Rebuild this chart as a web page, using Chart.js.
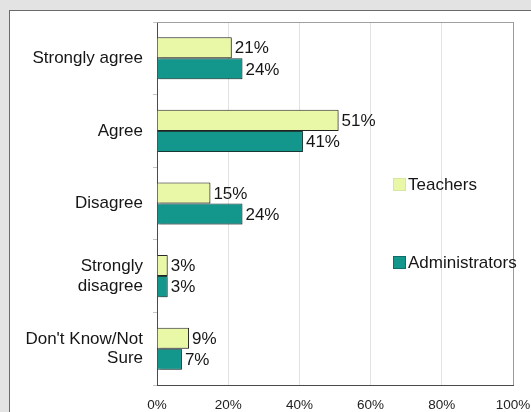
<!DOCTYPE html>
<html>
<head>
<meta charset="utf-8">
<script src="https://cdn.jsdelivr.net/npm/chart.js@4/dist/chart.umd.min.js"></script>
<style>
  html, body { margin: 0; padding: 0; background: #e3e3e3; width: 531px; height: 412px; overflow: hidden; }
  #panel { position: absolute; left: 9px; top: 10px; width: 540px; height: 420px; background: #fff; border: 1px solid #6a6a6a; }
  #myChart { position: absolute; left: 0; top: 0; }
</style>
</head>
<body>
<div id="panel"></div>
<canvas id="myChart" width="531" height="412"></canvas>
<script>
// survey answers, percent of respondents
var answers = ['Strongly agree', 'Agree', 'Disagree', ['Strongly', 'disagree'], ["Don't Know/Not", 'Sure']];
var teachers = [21, 51, 15, 3, 9];
var administrators = [24, 41, 24, 3, 7];
var xTicks = [0, 20, 40, 60, 80, 100];

var FONT = "'Liberation Sans', Arial, sans-serif";

function noOverhang(scale) {
    scale.paddingLeft = 0;
    scale.paddingRight = 0;
    scale.paddingTop = 0;
    scale.paddingBottom = 0;
}

// value text at the end of every bar
var valueLabels = {
    id: 'valueLabels',
    afterDatasetsDraw: function (chart) {
        var ctx = chart.ctx;
        ctx.save();
        ctx.font = '17px ' + FONT;
        ctx.fillStyle = '#161616';
        ctx.textAlign = 'left';
        ctx.textBaseline = 'middle';
        chart.data.datasets.forEach(function (ds, i) {
            chart.getDatasetMeta(i).data.forEach(function (bar, j) {
                ctx.fillText(ds.data[j] + '%', bar.x + 3, bar.y + 1);
            });
        });
        ctx.restore();
    }
};

// drop shadow behind the bars, plus the top frame line
var barShadow = {
    id: 'barShadow',
    beforeDatasetsDraw: function (chart) {
        var ctx = chart.ctx, a = chart.chartArea;
        ctx.save();
        ctx.strokeStyle = '#a0a0a0';
        ctx.lineWidth = 1;
        ctx.beginPath();
        ctx.moveTo(a.left, a.top + 0.5);
        ctx.lineTo(a.right, a.top + 0.5);
        ctx.stroke();
        ctx.restore();
        ctx.save();
        ctx.shadowColor = 'rgba(0,0,0,0.28)';
        ctx.shadowOffsetX = 2;
        ctx.shadowOffsetY = 1;
        ctx.shadowBlur = 2;
    },
    afterDatasetsDraw: function (chart) {
        chart.ctx.restore();
    }
};

// legend placed inside the plot, right side
var sideLegend = {
    id: 'sideLegend',
    afterDraw: function (chart) {
        var ctx = chart.ctx;
        var rows = [184, 262];
        ctx.save();
        ctx.font = '17px ' + FONT;
        ctx.textBaseline = 'middle';
        chart.data.datasets.forEach(function (ds, i) {
            var y = rows[i];
            ctx.fillStyle = ds.backgroundColor;
            ctx.fillRect(393, y - 6, 13, 13);
            ctx.strokeStyle = i === 0 ? '#d8e6a0' : '#0c6e66';
            ctx.lineWidth = 1;
            ctx.strokeRect(393.5, y - 5.5, 12, 12);
            ctx.fillStyle = '#161616';
            ctx.fillText(ds.label, 408, y + 1);
        });
        ctx.restore();
    }
};

var ctx = document.getElementById('myChart').getContext('2d');
var chart = new Chart(ctx, {
    type: 'bar',
    data: {
        labels: answers,
        datasets: [{
            label: 'Teachers',
            data: teachers,
            backgroundColor: '#e9f8a6',
            borderColor: '#2a2a2a',
            borderWidth: 1
        }, {
            label: 'Administrators',
            data: administrators,
            backgroundColor: '#13968c',
            borderColor: '#1d4440',
            borderWidth: 1
        }]
    },
    options: {
        indexAxis: 'y',
        responsive: false,
        animation: false,
        categoryPercentage: 0.58,
        barPercentage: 1.0,
        layout: { padding: { top: 22, right: 18, left: 0, bottom: 0 } },
        plugins: {
            legend: { display: false },
            tooltip: { enabled: false }
        },
        scales: {
            x: {
                min: 0,
                max: 100,
                afterBuildTicks: function (scale) {
                    scale.ticks = xTicks.map(function (v) { return { value: v }; });
                },
                afterFit: function (scale) {
                    scale.height = 27;
                    noOverhang(scale);
                },
                grid: {
                    color: function (c) { return c.tick && c.tick.value === 100 ? '#9a9a9a' : '#e2e2e2'; },
                    drawTicks: false
                },
                border: { color: '#4a4a4a' },
                ticks: {
                    padding: 12,
                    color: '#222',
                    font: { family: FONT, size: 13.5 },
                    callback: function (v) { return v + '%'; }
                }
            },
            y: {
                afterFit: function (scale) {
                    scale.width = 157;
                    noOverhang(scale);
                },
                grid: { drawOnChartArea: false, tickLength: 4, color: '#c4c4c4', offset: true },
                border: { color: '#4a4a4a' },
                ticks: {
                    padding: 10,
                    color: '#161616',
                    font: { family: FONT, size: 17, lineHeight: 1.15 }
                }
            }
        }
    },
    plugins: [barShadow, valueLabels, sideLegend]
});
</script>
</body>
</html>
